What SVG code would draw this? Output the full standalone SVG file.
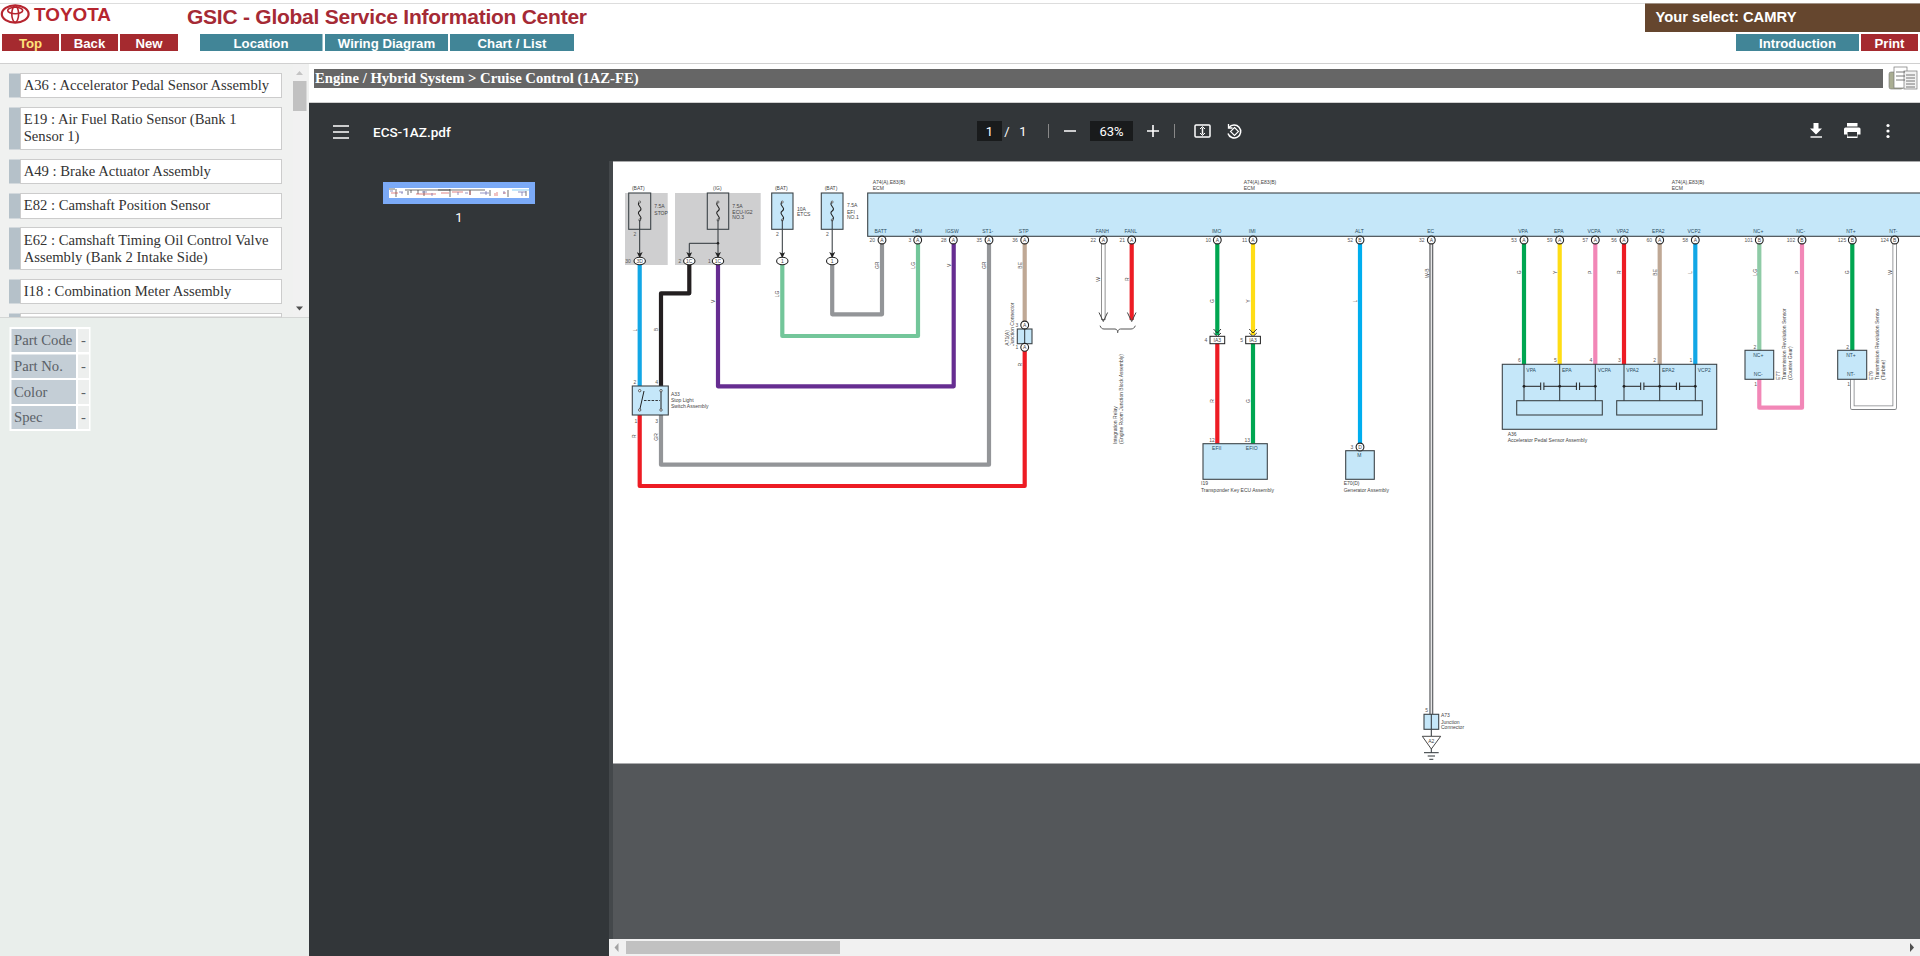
<svg xmlns="http://www.w3.org/2000/svg" width="1920" height="956" viewBox="0 0 1920 956">
<style>
.btn{font:bold 13.2px "Liberation Sans",Arial,sans-serif;fill:#fff;text-anchor:middle}
.red{fill:#a52a2f}.teal{fill:#418597}
.li{font:14.67px "Liberation Serif","Times New Roman",serif;fill:#333}
.box{fill:#fff;stroke:#ccc;stroke-width:1}
.tab{fill:#b5c1c9}
.th{font:14.67px "Liberation Serif","Times New Roman",serif;fill:#5a6066}
.lab{fill:#c4ced6}.val{fill:#edefee}
.t{font:5px "Liberation Sans",Arial,sans-serif;fill:#444}
.m{text-anchor:middle}
.p{font:5px "Liberation Sans",Arial,sans-serif;fill:#2c4c60;text-anchor:middle}
.n{font:5px "Liberation Sans",Arial,sans-serif;fill:#555;text-anchor:middle}
.w{fill:none;stroke-width:4.2;stroke-linejoin:round;stroke-linecap:butt}
.wo{fill:none;stroke-width:4.4;stroke-linejoin:round}
.wi{fill:none;stroke-width:2.8;stroke-linejoin:round}
.ec1{fill:none;stroke-width:4}
.ec2{fill:none;stroke-width:1.3}
.bl{fill:#c5e7f9;stroke:#3c4448;stroke-width:1.1}
.fu{fill:none;stroke:#3c4448;stroke-width:1.1}
.pin{fill:#fff;stroke:#222;stroke-width:1.1}
.ln{fill:none;stroke:#2c3337;stroke-width:1}
.dark{fill:#323639}
.ic{fill:#fff}
.tb{font:13px Roboto,"Liberation Sans",sans-serif;fill:#fff;text-anchor:middle}
</style>
<defs>
<marker id="ah" markerWidth="8" markerHeight="6" refX="6" refY="3" orient="auto" markerUnits="userSpaceOnUse"><path d="M0 0L6 3L0 6L1.4 3Z" fill="#222"/></marker>
<path id="fs" d="M0 -9C-4.500 -6 4.500 -3 0 0C-4.500 3 4.500 6 0 9" fill="none" stroke="#222" stroke-width="1.100"/>
</defs>
<rect width="1920" height="956" fill="#fff"/>

<g id="header">
<rect y="3" width="1920" height="1" fill="#ddd"/>
<g id="logo" fill="none" stroke="#b6252f"><ellipse cx="15.2" cy="14" rx="13.4" ry="8.6" stroke-width="2.200"/><ellipse cx="15.2" cy="10.5" rx="7.5" ry="3.2" stroke-width="1.600"/><ellipse cx="15.2" cy="14" rx="3.4" ry="8.2" stroke-width="1.600"/></g>
<text x="34" y="20.7" font-family="Liberation Sans" font-weight="bold" font-size="18.5" fill="#b6252f" textLength="77" lengthAdjust="spacingAndGlyphs">TOYOTA</text>
<text x="187" y="24" font-family="Liberation Sans" font-weight="bold" font-size="21" fill="#a52a35" textLength="400">GSIC - Global Service Information Center</text>
<g id="btn-top"><rect class="red" x="2" y="34" width="57" height="17"/><text class="btn" x="30.5" y="47.5" style="fill:#ffe27a">Top</text></g>
<g id="btn-back"><rect class="red" x="61" y="34" width="57" height="17"/><text class="btn" x="89.5" y="47.5">Back</text></g>
<g id="btn-new"><rect class="red" x="120" y="34" width="58" height="17"/><text class="btn" x="149" y="47.5">New</text></g>
<g id="btn-location"><rect class="teal" x="200" y="34" width="122.500" height="17"/><text class="btn" x="261" y="47.5">Location</text></g>
<g id="btn-wiring"><rect class="teal" x="325" y="34" width="123" height="17"/><text class="btn" x="386.500" y="47.5">Wiring Diagram</text></g>
<g id="btn-chart"><rect class="teal" x="450" y="34" width="124" height="17"/><text class="btn" x="512" y="47.5">Chart / List</text></g>
<g id="select"><rect x="1645" y="3.500" width="275" height="28.500" fill="#65462e"/><text x="1655.500" y="22" font-family="Liberation Sans" font-weight="bold" font-size="14.500" fill="#fff" textLength="141" lengthAdjust="spacingAndGlyphs">Your select: CAMRY</text></g>
<g id="btn-intro"><rect class="teal" x="1736" y="34" width="123" height="17"/><text class="btn" x="1797.500" y="47.5">Introduction</text></g>
<g id="btn-print"><rect class="red" x="1861" y="34" width="57" height="17"/><text class="btn" x="1889.500" y="47.5">Print</text></g>
<rect y="63" width="1920" height="1" fill="#d0d0d0"/>
</g>

<g id="left-panel">
<rect y="64" width="309" height="254" fill="#f0f1f0"/>
<rect y="318" width="309" height="638" fill="#e9eeeb"/>
<rect y="317" width="309" height="1" fill="#d4d6d5"/>
<g id="item-a36"><rect class="tab" x="9" y="73.500" width="12" height="24"/><rect class="box" x="20.500" y="73.500" width="261" height="24"/><text class="li" x="23.700" y="90">A36 : Accelerator Pedal Sensor Assembly</text></g>
<g id="item-e19"><rect class="tab" x="9" y="107.500" width="12" height="42"/><rect class="box" x="20.500" y="107.500" width="261" height="42"/><text class="li" x="23.700" y="124">E19 : Air Fuel Ratio Sensor (Bank 1</text><text class="li" x="23.700" y="141">Sensor 1)</text></g>
<g id="item-a49"><rect class="tab" x="9" y="159.500" width="12" height="24"/><rect class="box" x="20.500" y="159.500" width="261" height="24"/><text class="li" x="23.700" y="176">A49 : Brake Actuator Assembly</text></g>
<g id="item-e82"><rect class="tab" x="9" y="193.500" width="12" height="25"/><rect class="box" x="20.500" y="193.500" width="261" height="25"/><text class="li" x="23.700" y="210">E82 : Camshaft Position Sensor</text></g>
<g id="item-e62"><rect class="tab" x="9" y="227.500" width="12" height="42"/><rect class="box" x="20.500" y="227.500" width="261" height="42"/><text class="li" x="23.700" y="245">E62 : Camshaft Timing Oil Control Valve</text><text class="li" x="23.700" y="262">Assembly (Bank 2 Intake Side)</text></g>
<g id="item-i18"><rect class="tab" x="9" y="279.500" width="12" height="24"/><rect class="box" x="20.500" y="279.500" width="261" height="24"/><text class="li" x="23.700" y="296">I18 : Combination Meter Assembly</text></g>
<g id="item-clipped"><rect class="tab" x="9" y="313.500" width="12" height="3.500"/><rect x="20.500" y="313.500" width="261" height="3.500" fill="#fff" stroke="#ccc"/></g>
<g id="list-scroll"><rect x="293" y="64" width="14" height="253" fill="#f1f1f1"/><rect x="293" y="81" width="13.500" height="30" fill="#c1c1c1"/><path d="M299.500 71l3.500 4h-7z" fill="#c4c4c4"/><path d="M299.500 310.500l3.500 -4h-7z" fill="#505050"/></g>
<g id="spec-table">
<rect x="9.500" y="327" width="81" height="104" fill="#fff"/>
<rect class="lab" x="11.500" y="329" width="64.500" height="23"/><rect class="val" x="78" y="329" width="11" height="23"/>
<rect class="lab" x="11.500" y="354.500" width="64.500" height="23.500"/><rect class="val" x="78" y="354.500" width="11" height="23.500"/>
<rect class="lab" x="11.500" y="380" width="64.500" height="24"/><rect class="val" x="78" y="380" width="11" height="24"/>
<rect class="lab" x="11.500" y="406" width="64.500" height="23"/><rect class="val" x="78" y="406" width="11" height="23"/>
<text class="th" x="14" y="345">Part Code</text><text class="th" x="81" y="345">-</text>
<text class="th" x="14" y="371">Part No.</text><text class="th" x="81" y="371">-</text>
<text class="th" x="14" y="396.500">Color</text><text class="th" x="81" y="396.500">-</text>
<text class="th" x="14" y="422">Spec</text><text class="th" x="81" y="422">-</text>
</g>
</g>

<g id="title-bar"><rect x="314" y="69" width="1569" height="19" fill="#666"/><text x="315" y="83" font-family="Liberation Serif" font-weight="bold" font-size="14.670" fill="#fff">Engine / Hybrid System &gt; Cruise Control (1AZ-FE)</text>
<g id="doc-icon"><rect x="1889" y="72" width="14" height="17" rx="2" fill="#a9ad92" stroke="#777" stroke-width=".6"/><rect x="1894" y="67" width="13" height="21" fill="#fff" stroke="#777" stroke-width=".7"/><rect x="1904" y="71" width="13" height="18" fill="#f2f2f2" stroke="#777" stroke-width=".7"/><path d="M1896 72h9M1896 76h9M1896 80h9M1906 75h9M1906 78h9M1906 81h9M1906 84h9M1906 87h9" stroke="#555" stroke-width=".8"/></g></g>

<g id="pdf-viewer">
<rect x="309" y="161" width="1611" height="795" fill="#54575a"/>
<rect class="dark" x="309" y="103" width="1611" height="58"/>
<rect x="309" y="102" width="1611" height="1" fill="#d0d0d0"/>
<rect x="613" y="161" width="1307" height="1.500" fill="#a8a9aa"/>
<rect class="dark" x="309" y="161" width="300" height="795"/>
<rect x="609" y="161" width="4" height="778" fill="#44484b"/>
<g id="toolbar">
<path d="M333 126h16M333 132h16M333 138h16" stroke="#fff" stroke-width="1.700"/>
<text x="373" y="137" font-family="Roboto,Liberation Sans,sans-serif" font-weight="500" font-size="13.500" fill="#fff">ECS-1AZ.pdf</text>
<rect x="977" y="121" width="25" height="20" fill="#191b1c"/><text class="tb" x="989.500" y="136">1</text><text class="tb" x="1007" y="136">/</text><text class="tb" x="1023" y="136">1</text>
<path d="M1048.500 124v14M1174.500 124v14" stroke="#888"/>
<path d="M1064 131h12M1147 131h12M1153 125v12" stroke="#fff" stroke-width="1.600"/>
<rect x="1090" y="121" width="43" height="20" fill="#191b1c"/><text class="tb" x="1111.500" y="136">63%</text>
<g id="fit-icon" fill="none" stroke="#fff" stroke-width="1.500"><rect x="1195" y="125" width="15" height="12" rx="1"/><path d="M1202.500 127.500v7" /><path d="M1200 129l2.500 -2.500l2.500 2.500M1200 133l2.500 2.500l2.500 -2.500" stroke-width="1"/></g>
<g id="rotate-icon" fill="none" stroke="#fff" stroke-width="1.500"><path d="M1229 127.500a6.500 6.500 0 1 1 -1 6"/><path d="M1228.500 124v4h4" stroke-width="1.300"/><path d="M1234.500 127.500l4 4l-4 4l-4 -4z" stroke-width="1.100"/></g>
<g id="download-icon" class="ic"><path d="M1813.500 123h5v5.500h3.500l-6 6l-6 -6h3.500z"/><rect x="1810.500" y="136.300" width="11.500" height="1.400"/></g>
<g id="print-icon" class="ic"><rect x="1847" y="123" width="10.500" height="3.500"/><path d="M1845.500 127.500h13.500a1.500 1.500 0 0 1 1.500 1.500v5.500h-3v3.500h-10.500v-3.500h-3v-5.500a1.500 1.500 0 0 1 1.500 -1.500zM1847.500 132v4.500h9.500v-4.500z" fill-rule="evenodd"/></g>
<g id="more-icon" class="ic"><circle cx="1888" cy="125.500" r="1.600"/><circle cx="1888" cy="131" r="1.600"/><circle cx="1888" cy="136.500" r="1.600"/></g>
</g>
<g id="thumbnail">
<rect x="383" y="182" width="152" height="22" fill="#7baaf7"/>
<rect x="389" y="188" width="140" height="10" fill="#fff"/>
<path d="M389 189h6M405 190h80M396 189v8M408 191v4M411 190v3M418 190v4M424 191v5M438 190h12M450 189v8M470 190v5M490 190v6M508 190v7M526 189v7" stroke="#333" stroke-width=".7" fill="none"/>
<rect x="512" y="189" width="17" height="2" fill="#c5e7f9"/>
<path d="M391 193h7M416 194h20M441 193h8M452 192h11M470 191v4M495 193v3M497 192v4M503 193h3" stroke="#c33" stroke-width=".6" fill="none"/>
<path d="M390 191h3M399 192h4M402 192v2M422 192h5M432 193v3M458 192v3M465 193h3M480 193h9M486 191v4M504 191v3M518 192h8M522 192v4" stroke="#66a" stroke-width=".7" fill="none"/>
<text x="459" y="222" font-family="Roboto,Liberation Sans,sans-serif" font-size="13" fill="#fff" text-anchor="middle">1</text>
</g>
<g id="hscroll"><rect x="609" y="939" width="1311" height="17" fill="#f1f1f1"/><rect x="626" y="941" width="214" height="13" fill="#c1c1c1"/><path d="M614.500 947.500l4 -4.500v9z" fill="#a3a3a3"/><path d="M1914 947.500l-4 -4.500v9z" fill="#505050"/></g>
<rect x="613" y="162" width="1307" height="601.500" fill="#fff"/>
</g>

<g id="fuse-backgrounds"><rect x="625" y="193" width="42.700" height="72" fill="#cfcfd0"/><rect x="675" y="193" width="85.700" height="72" fill="#cfcfd0"/></g>

<g id="connectors">
<path class="w" stroke="#12a7e6" d="M639.700 265V387"/>
<path class="w" stroke="#231f20" d="M689.300 265V293.300H661V386"/>
<path class="w" stroke="#662d91" d="M718 265V386.300H953.700V240"/>
<path class="w" stroke="#73c69a" d="M782.300 265V336H918V240"/>
<path class="w" stroke="#939598" d="M832.200 265V314.300H882V240"/>
<path class="w" stroke="#939598" d="M989 240V464.700H661V415"/>
<path class="w" stroke="#ed1c24" d="M639.700 415V486H1024.700V347"/>
<path class="w" stroke="#bfa895" d="M1024.700 240V325"/>
<path class="wo" stroke="#777" d="M1103.300 243V320"/><path class="wi" stroke="#fff" d="M1103.300 243V319"/>
<path class="w" stroke="#ed1c24" d="M1131.700 243V320"/>
<path d="M1099 312.500L1103.300 321.500L1107.600 312.500M1127.400 312.500L1131.700 321.500L1136 312.500" fill="none" stroke="#444" stroke-width="1"/>
<path class="w" stroke="#00a651" d="M1217.300 243V335"/><path class="w" stroke="#ffdd15" d="M1253 243V335"/>
<path d="M1213.500 329L1217.300 333L1221 329M1213.500 333L1217.300 336.500L1221 333M1249.200 329L1253 333L1256.800 329M1249.200 333L1253 336.500L1256.800 333" fill="none" stroke="#222" stroke-width=".9"/>
<path class="w" stroke="#ed1c24" d="M1217.300 343V444"/><path class="w" stroke="#00a651" d="M1253 343V444"/>
<path class="w" stroke="#00aeef" d="M1360 243V444"/>
<path class="ec1" stroke="#6b6d70" d="M1431.300 243V714"/><path class="ec2" stroke="#eee" d="M1431.300 243V714"/>
<path class="w" stroke="#00a651" d="M1524 243V365"/><path class="w" stroke="#ffdd15" d="M1559.700 243V365"/><path class="w" stroke="#f287b7" d="M1595.300 243V365"/><path class="w" stroke="#ed1c24" d="M1624 243V365"/><path class="w" stroke="#bfa895" d="M1659.700 243V365"/><path class="w" stroke="#12a7e6" d="M1695.300 243V365"/>
<path class="w" stroke="#8ecba6" d="M1759.300 243V351"/>
<path class="w" stroke="#f287b7" d="M1759.300 379V407.700H1802V243"/>
<path class="w" stroke="#00a651" d="M1852.300 243V351"/>
<path class="wo" stroke="#808285" d="M1852.300 379V407.700H1894.700V243"/><path class="wi" stroke="#fff" d="M1852.300 379V407.700H1894.700V243"/>
<path class="ln" d="M1431.300 729.300V736M1431.300 749V752.700"/>
<path class="ln" d="M639.700 229V258" marker-end="url(#ah)"/>
<path class="ln" d="M718 229V258" marker-end="url(#ah)"/>
<path class="ln" d="M718 243.300H689.300V258" marker-end="url(#ah)"/>
<path class="ln" d="M782.300 229V258" marker-end="url(#ah)"/>
<path class="ln" d="M832.200 229V258" marker-end="url(#ah)"/>
</g>

<g id="fuse-stop"><rect class="fu" x="628.700" y="193" width="22" height="36.300"/><use href="#fs" x="639.700" y="211"/><circle cx="639.700" cy="220" r="1" fill="#fff" stroke="#222" stroke-width=".6"/><circle cx="639.700" cy="202" r="1" fill="#fff" stroke="#222" stroke-width=".6"/>
<path class="ln" d="M639.700 220V229"/>
<text class="t m" x="638.300" y="190">(BAT)</text><text class="t" x="654.300" y="207.700">7.5A</text><text class="t" x="654.300" y="215.300">STOP</text><text class="n" x="635" y="236">2</text>
<ellipse class="pin" cx="639.700" cy="261" rx="5.700" ry="3.700"/><text class="t m" x="639.700" y="262.800">3D</text><text class="n" x="628" y="262.800">30</text></g>
<g id="fuse-ecu-ig2"><rect class="fu" x="707.300" y="193" width="21.400" height="36.300"/><use href="#fs" x="718" y="211"/><circle cx="718" cy="220" r="1" fill="#fff" stroke="#222" stroke-width=".6"/><circle cx="718" cy="202" r="1" fill="#fff" stroke="#222" stroke-width=".6"/><circle cx="718" cy="243.300" r="1.300" fill="#222"/>
<path class="ln" d="M718 220V229"/>
<text class="t m" x="717.300" y="190">(IG)</text><text class="t" x="732.300" y="207.700">7.5A</text><text class="t" x="732.300" y="213.700">ECU-IG2</text><text class="t" x="732.300" y="219.300">NO.3</text>
<ellipse class="pin" cx="689.300" cy="261" rx="5.700" ry="3.700"/><text class="t m" x="689.300" y="262.800">1C</text><text class="n" x="680" y="262.800">2</text>
<ellipse class="pin" cx="718" cy="261" rx="5.700" ry="3.700"/><text class="t m" x="718" y="262.800">1C</text><text class="n" x="709.500" y="262.800">1</text></g>
<g id="fuse-etcs"><rect class="bl" x="771.700" y="193" width="21.300" height="36.300"/><use href="#fs" x="782.300" y="211"/><circle cx="782.300" cy="220" r="1" fill="#fff" stroke="#222" stroke-width=".6"/><circle cx="782.300" cy="202" r="1" fill="#fff" stroke="#222" stroke-width=".6"/>
<path class="ln" d="M782.300 220V229"/>
<text class="t m" x="781.300" y="190">(BAT)</text><text class="t" x="797" y="210.700">10A</text><text class="t" x="797" y="215.900">ETCS</text><text class="n" x="777.500" y="236">2</text>
<ellipse class="pin" cx="782.300" cy="261" rx="5.700" ry="3.700"/><text class="t m" x="782.300" y="262.800">1</text></g>
<g id="fuse-efi"><rect class="bl" x="821.300" y="193" width="21.700" height="36.300"/><use href="#fs" x="832.200" y="211"/><circle cx="832.200" cy="220" r="1" fill="#fff" stroke="#222" stroke-width=".6"/><circle cx="832.200" cy="202" r="1" fill="#fff" stroke="#222" stroke-width=".6"/>
<path class="ln" d="M832.200 220V229"/>
<text class="t m" x="831" y="190">(BAT)</text><text class="t" x="847" y="207.300">7.5A</text><text class="t" x="847" y="213.700">EFI</text><text class="t" x="847" y="218.800">NO.1</text><text class="n" x="827.500" y="236">2</text>
<ellipse class="pin" cx="832.200" cy="261" rx="5.700" ry="3.700"/><text class="t m" x="832.200" y="262.800">1</text></g>

<g id="ecm">
<rect class="bl" x="867.700" y="193" width="1060" height="43.300"/>
<text class="t" x="872.700" y="183.700">A74(A),E83(B)</text><text class="t" x="872.700" y="190">ECM</text>
<text class="t" x="1243.700" y="183.700">A74(A),E83(B)</text><text class="t" x="1243.700" y="190">ECM</text>
<text class="t" x="1671.700" y="183.700">A74(A),E83(B)</text><text class="t" x="1671.700" y="190">ECM</text>
<g id="ecm-pins">
<circle class="pin" cx="882" cy="240" r="3.900"/><text class="t m" x="882" y="241.800">A</text><text class="p" x="880.700" y="232.700">BATT</text><text class="n" x="872.300" y="241.800">20</text>
<circle class="pin" cx="917.700" cy="240" r="3.900"/><text class="t m" x="917.700" y="241.800">A</text><text class="p" x="917" y="232.700">+BM</text><text class="n" x="910" y="241.800">3</text>
<circle class="pin" cx="953.300" cy="240" r="3.900"/><text class="t m" x="953.300" y="241.800">A</text><text class="p" x="952" y="232.700">IGSW</text><text class="n" x="943.700" y="241.800">28</text>
<circle class="pin" cx="989" cy="240" r="3.900"/><text class="t m" x="989" y="241.800">A</text><text class="p" x="987.700" y="232.700">ST1-</text><text class="n" x="979.300" y="241.800">35</text>
<circle class="pin" cx="1024.700" cy="240" r="3.900"/><text class="t m" x="1024.700" y="241.800">A</text><text class="p" x="1023.700" y="232.700">STP</text><text class="n" x="1015" y="241.800">36</text>
<circle class="pin" cx="1103.300" cy="240" r="3.900"/><text class="t m" x="1103.300" y="241.800">A</text><text class="p" x="1102.300" y="232.700">FANH</text><text class="n" x="1093.300" y="241.800">22</text>
<circle class="pin" cx="1131.700" cy="240" r="3.900"/><text class="t m" x="1131.700" y="241.800">A</text><text class="p" x="1130.700" y="232.700">FANL</text><text class="n" x="1122.300" y="241.800">21</text>
<circle class="pin" cx="1217.300" cy="240" r="3.900"/><text class="t m" x="1217.300" y="241.800">A</text><text class="p" x="1216.700" y="232.700">IMO</text><text class="n" x="1208.300" y="241.800">10</text>
<circle class="pin" cx="1253" cy="240" r="3.900"/><text class="t m" x="1253" y="241.800">A</text><text class="p" x="1252.300" y="232.700">IMI</text><text class="n" x="1244.700" y="241.800">11</text>
<circle class="pin" cx="1360" cy="240" r="3.900"/><text class="t m" x="1360" y="241.800">B</text><text class="p" x="1359.300" y="232.700">ALT</text><text class="n" x="1350.300" y="241.800">52</text>
<circle class="pin" cx="1431.300" cy="240" r="3.900"/><text class="t m" x="1431.300" y="241.800">A</text><text class="p" x="1430.700" y="232.700">EC</text><text class="n" x="1421.700" y="241.800">32</text>
<circle class="pin" cx="1524" cy="240" r="3.900"/><text class="t m" x="1524" y="241.800">A</text><text class="p" x="1523" y="232.700">VPA</text><text class="n" x="1514" y="241.800">53</text>
<circle class="pin" cx="1559.700" cy="240" r="3.900"/><text class="t m" x="1559.700" y="241.800">A</text><text class="p" x="1558.700" y="232.700">EPA</text><text class="n" x="1549.700" y="241.800">59</text>
<circle class="pin" cx="1595.300" cy="240" r="3.900"/><text class="t m" x="1595.300" y="241.800">A</text><text class="p" x="1594" y="232.700">VCPA</text><text class="n" x="1585.300" y="241.800">57</text>
<circle class="pin" cx="1624" cy="240" r="3.900"/><text class="t m" x="1624" y="241.800">A</text><text class="p" x="1622.700" y="232.700">VPA2</text><text class="n" x="1614" y="241.800">56</text>
<circle class="pin" cx="1659.700" cy="240" r="3.900"/><text class="t m" x="1659.700" y="241.800">A</text><text class="p" x="1658.300" y="232.700">EPA2</text><text class="n" x="1649.300" y="241.800">60</text>
<circle class="pin" cx="1695.300" cy="240" r="3.900"/><text class="t m" x="1695.300" y="241.800">A</text><text class="p" x="1694" y="232.700">VCP2</text><text class="n" x="1685.300" y="241.800">58</text>
<circle class="pin" cx="1759.300" cy="240" r="3.900"/><text class="t m" x="1759.300" y="241.800">B</text><text class="p" x="1758.300" y="232.700">NC+</text><text class="n" x="1748.700" y="241.800">101</text>
<circle class="pin" cx="1802" cy="240" r="3.900"/><text class="t m" x="1802" y="241.800">B</text><text class="p" x="1800.700" y="232.700">NC-</text><text class="n" x="1791" y="241.800">102</text>
<circle class="pin" cx="1852.300" cy="240" r="3.900"/><text class="t m" x="1852.300" y="241.800">B</text><text class="p" x="1851" y="232.700">NT+</text><text class="n" x="1842" y="241.800">125</text>
<circle class="pin" cx="1894.700" cy="240" r="3.900"/><text class="t m" x="1894.700" y="241.800">B</text><text class="p" x="1893.300" y="232.700">NT-</text><text class="n" x="1884.700" y="241.800">124</text>
</g>
</g>

<g id="wire-labels">
<text class="t m" transform="translate(636.800 330) rotate(-90)">L</text>
<text class="t m" transform="translate(658 329.700) rotate(-90)">B</text>
<text class="t m" transform="translate(715 301.300) rotate(-90)">V</text>
<text class="t m" transform="translate(779 294) rotate(-90)">LG</text>
<text class="t m" transform="translate(879 265.300) rotate(-90)">GR</text>
<text class="t m" transform="translate(915 265.300) rotate(-90)">LG</text>
<text class="t m" transform="translate(950.800 265.300) rotate(-90)">V</text>
<text class="t m" transform="translate(985.800 265.300) rotate(-90)">GR</text>
<text class="t m" transform="translate(1022 265.300) rotate(-90)">BE</text>
<text class="t m" transform="translate(1022 364.700) rotate(-90)">R</text>
<text class="t m" transform="translate(636 436.300) rotate(-90)">R</text>
<text class="t m" transform="translate(658 437) rotate(-90)">GR</text>
<text class="t m" transform="translate(1100 279.300) rotate(-90)">W</text>
<text class="t m" transform="translate(1128.800 279.300) rotate(-90)">R</text>
<text class="t m" transform="translate(1214 301) rotate(-90)">G</text>
<text class="t m" transform="translate(1249.500 301) rotate(-90)">Y</text>
<text class="t m" transform="translate(1214 401) rotate(-90)">R</text>
<text class="t m" transform="translate(1249.800 401) rotate(-90)">G</text>
<text class="t m" transform="translate(1356.800 301) rotate(-90)">L</text>
<text class="t m" transform="translate(1428.500 273.300) rotate(-90)">W-B</text>
<text class="t m" transform="translate(1520.800 272.300) rotate(-90)">G</text>
<text class="t m" transform="translate(1556.500 272.300) rotate(-90)">Y</text>
<text class="t m" transform="translate(1592 272.300) rotate(-90)">P</text>
<text class="t m" transform="translate(1620.800 272.300) rotate(-90)">R</text>
<text class="t m" transform="translate(1656.500 272.300) rotate(-90)">BE</text>
<text class="t m" transform="translate(1692 272.300) rotate(-90)">L</text>
<text class="t m" transform="translate(1756.500 272.300) rotate(-90)">LG</text>
<text class="t m" transform="translate(1798.800 272.300) rotate(-90)">P</text>
<text class="t m" transform="translate(1849 272.300) rotate(-90)">G</text>
<text class="t m" transform="translate(1892 272.300) rotate(-90)">W</text>
</g>

<g id="a33-stop-light-switch">
<rect class="bl" x="632.300" y="386" width="36" height="29"/>
<path class="ln" style="stroke:#222" d="M639.700 410L644 391M661 391V410"/>
<path d="M644 400.500H660" stroke="#222" stroke-width=".9" stroke-dasharray="2.500 1.300"/>
<g fill="#fff" stroke="#222" stroke-width=".7"><circle cx="639.700" cy="390.700" r="1.200"/><circle cx="661" cy="390.700" r="1.200"/><circle cx="639.700" cy="410" r="1.200"/><circle cx="661" cy="410" r="1.200"/></g>
<text class="n" x="635" y="384">2</text><text class="n" x="656.700" y="384">4</text><text class="n" x="636" y="423">1</text><text class="n" x="656.700" y="423">3</text>
<text class="t" x="671" y="396">A33</text><text class="t" x="671" y="402">Stop Light</text><text class="t" x="671" y="408">Switch Assembly</text>
</g>

<g id="a71-junction">
<rect class="bl" x="1017.300" y="329" width="14.700" height="14.700"/><path class="ln" d="M1024.700 329V343.700"/>
<circle class="pin" cx="1024.700" cy="325" r="3.900"/><text class="t m" x="1024.700" y="326.800">A</text>
<circle class="pin" cx="1024.700" cy="347.300" r="3.900"/><text class="t m" x="1024.700" y="349.100">A</text>
<text class="n" x="1017" y="327">3</text><text class="n" x="1017" y="349">1</text>
<text class="t" transform="translate(1008.600 345.700) rotate(-90)">A71(A)</text>
<text class="t" transform="translate(1014.200 345.700) rotate(-90)">Junction Connector</text>
</g>

<g id="integration-relay">
<path class="ln" style="stroke:#555" d="M1100 325.700C1101 328 1102 329 1104 329H1115C1117 329 1117.700 331 1117.700 332.700C1117.700 331 1118.500 329 1120.500 329H1131C1133 329 1134.500 328 1135.300 325.700"/>
<text class="t" transform="translate(1117.300 444) rotate(-90)">Integration Relay</text>
<text class="t" transform="translate(1123.300 444) rotate(-90)">(Engine Room Junction Block Assembly)</text>
</g>

<g id="ia3-connectors">
<rect x="1210" y="336.300" width="14.700" height="7.400" fill="#fff" stroke="#222"/><text class="t m" x="1217.300" y="341.800">IA3</text><text class="n" x="1206" y="341.800">4</text>
<rect x="1245.700" y="336.300" width="14.700" height="7.400" fill="#fff" stroke="#222"/><text class="t m" x="1253" y="341.800">IA3</text><text class="n" x="1241.700" y="341.800">5</text>
</g>

<g id="i19-transponder">
<rect class="bl" x="1203" y="443.700" width="64.300" height="35.600"/>
<text class="p" x="1216.700" y="449.800">EFII</text><text class="p" x="1251.700" y="449.800">EFIO</text>
<text class="n" x="1212" y="441.500">12</text><text class="n" x="1247.300" y="441.500">13</text>
<text class="t" x="1201" y="485.300">I19</text><text class="t" x="1201" y="491.700">Transponder Key ECU Assembly</text>
</g>

<g id="e70-generator">
<rect class="bl" x="1345.700" y="450.700" width="28.600" height="28.600"/>
<circle class="pin" cx="1360" cy="447" r="3.900"/><text class="t m" x="1360" y="448.800">D</text><text class="n" x="1352" y="448.800">3</text>
<text class="p" x="1359.300" y="456.800">M</text>
<text class="t" x="1343.700" y="485.300">E70(D)</text><text class="t" x="1343.700" y="491.700">Generator Assembly</text>
</g>

<g id="a73-junction-ground">
<rect class="bl" x="1424" y="714.300" width="14.700" height="15"/><path class="ln" d="M1431.300 714.300V729.300"/>
<text class="n" x="1426.700" y="712">5</text>
<text class="t" x="1441" y="717.300">A73</text><text class="t" x="1441" y="723.700">Junction</text><text class="t" x="1441" y="728.800">Connector</text>
<path d="M1422.300 736.300H1440.700L1431.300 749Z" fill="#fff" stroke="#333" stroke-width=".9"/><text class="t m" x="1431.300" y="743">A2</text>
<path class="ln" d="M1424 752.700H1438.700M1427.700 756H1435M1429.300 759.300H1433.300"/>
</g>

<g id="a36-accelerator-sensor">
<rect class="bl" x="1502.300" y="364.300" width="214.400" height="65"/>
<rect class="bl" x="1516.700" y="400.700" width="85.600" height="14.300"/>
<rect class="bl" x="1616.700" y="400.700" width="85.600" height="14.300"/>
<path class="ln" d="M1524 364.300V400.700M1559.700 364.300V400.700M1595.300 364.300V400.700M1624 364.300V400.700M1659.700 364.300V400.700M1695.300 364.300V400.700"/>
<path class="ln" style="stroke:#222" d="M1524 386.300H1540.700M1543.900 386.300H1559.700H1576.400M1579.600 386.300H1595.300M1624 386.300H1640.700M1643.900 386.300H1659.700H1676.400M1679.600 386.300H1695.300M1540.700 382.500V390M1543.900 382.500V390M1576.400 382.500V390M1579.600 382.500V390M1640.700 382.500V390M1643.900 382.500V390M1676.400 382.500V390M1679.600 382.500V390"/>
<g fill="#222"><circle cx="1524" cy="386.300" r="1.400"/><circle cx="1559.700" cy="386.300" r="1.400"/><circle cx="1595.300" cy="386.300" r="1.400"/><circle cx="1624" cy="386.300" r="1.400"/><circle cx="1659.700" cy="386.300" r="1.400"/><circle cx="1695.300" cy="386.300" r="1.400"/></g>
<text class="p" style="text-anchor:start" x="1526.300" y="372">VPA</text><text class="p" style="text-anchor:start" x="1562" y="372">EPA</text><text class="p" style="text-anchor:start" x="1597.700" y="372">VCPA</text><text class="p" style="text-anchor:start" x="1626.300" y="372">VPA2</text><text class="p" style="text-anchor:start" x="1662" y="372">EPA2</text><text class="p" style="text-anchor:start" x="1697.700" y="372">VCP2</text>
<text class="n" x="1519.500" y="362">6</text><text class="n" x="1555.300" y="362">5</text><text class="n" x="1591" y="362">4</text><text class="n" x="1619.300" y="362">3</text><text class="n" x="1654.700" y="362">2</text><text class="n" x="1691" y="362">1</text>
<text class="t" x="1507.700" y="435.700">A36</text><text class="t" x="1507.700" y="441.700">Accelerator Pedal Sensor Assembly</text>
</g>

<g id="e77-sensor">
<rect class="bl" x="1745" y="350.300" width="28.700" height="29"/>
<text class="p" x="1758.300" y="357">NC+</text><text class="p" x="1758.300" y="376">NC-</text><text class="n" x="1755" y="349">2</text><text class="n" x="1755.700" y="386">1</text>
<text class="t" transform="translate(1779.500 380) rotate(-90)">E77</text>
<text class="t" transform="translate(1786 380) rotate(-90)">Transmission Revolution Sensor</text>
<text class="t" transform="translate(1791.500 380) rotate(-90)">(Counter Gear)</text>
</g>
<g id="e79-sensor">
<rect class="bl" x="1837.700" y="350.300" width="29" height="29"/>
<text class="p" x="1851" y="357">NT+</text><text class="p" x="1851" y="376">NT-</text><text class="n" x="1847.700" y="349">2</text><text class="n" x="1848.700" y="386">1</text>
<text class="t" transform="translate(1873 380) rotate(-90)">E79</text>
<text class="t" transform="translate(1879 380) rotate(-90)">Transmission Revolution Sensor</text>
<text class="t" transform="translate(1885 380) rotate(-90)">(Turbine)</text>
</g>
</svg>
